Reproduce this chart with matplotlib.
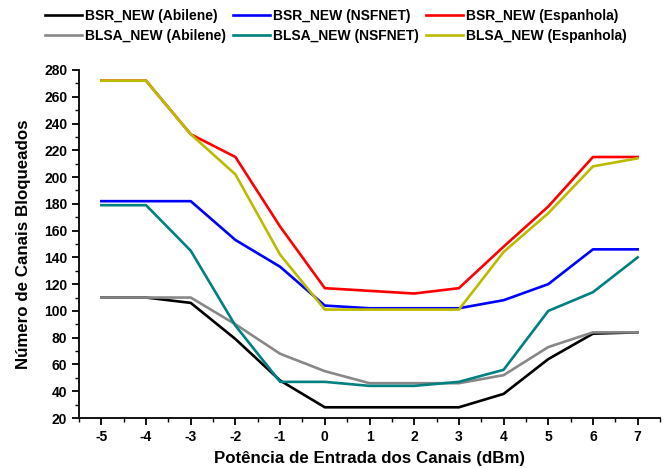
import matplotlib
matplotlib.use("Agg")
import matplotlib.pyplot as plt
from matplotlib.ticker import MultipleLocator

plt.rcParams['font.family'] = ['Liberation Sans', 'DejaVu Sans']
plt.rcParams['font.weight'] = 'bold'
plt.rcParams['axes.unicode_minus'] = False

x = [-5, -4, -3, -2, -1, 0, 1, 2, 3, 4, 5, 6, 7]
bsr_abilene = [110, 110, 106, 79, 48, 28, 28, 28, 28, 38, 64, 83, 84]
bsr_nsfnet = [182, 182, 182, 153, 133, 104, 102, 102, 102, 108, 120, 146, 146]
bsr_espanhola = [272, 272, 232, 215, 163, 117, 115, 113, 117, 148, 178, 215, 215]
blsa_abilene = [110, 110, 110, 90, 68, 55, 46, 46, 46, 52, 73, 84, 84]
blsa_nsfnet = [179, 179, 145, 89, 47, 47, 44, 44, 47, 56, 100, 114, 140]
blsa_espanhola = [272, 272, 232, 202, 142, 101, 101, 101, 101, 144, 173, 208, 214]

series = [
    ("BSR_NEW (Abilene)", bsr_abilene, "#000000"),
    ("BLSA_NEW (Abilene)", blsa_abilene, "#888888"),
    ("BSR_NEW (NSFNET)", bsr_nsfnet, "#0000FF"),
    ("BLSA_NEW (NSFNET)", blsa_nsfnet, "#008080"),
    ("BSR_NEW (Espanhola)", bsr_espanhola, "#FF0000"),
    ("BLSA_NEW (Espanhola)", blsa_espanhola, "#BBBB00"),
]

fig = plt.figure(figsize=(6.69, 4.68), dpi=100)
ax = fig.add_axes([79/669, 50/468, 581/669, 348/468])

for label, ys, c in series:
    ax.plot(x, ys, color=c, lw=1.9, label=label)

ax.set_xlim(-5.5, 7.5)
ax.set_ylim(20, 280)
ax.xaxis.set_major_locator(MultipleLocator(1))
ax.xaxis.set_minor_locator(MultipleLocator(0.5))
ax.yaxis.set_major_locator(MultipleLocator(20))
ax.yaxis.set_minor_locator(MultipleLocator(10))
ax.spines['top'].set_visible(False)
ax.spines['right'].set_visible(False)
for s in ['left', 'bottom']:
    ax.spines[s].set_linewidth(1.3)
ax.tick_params(which='major', direction='out', length=5, width=1.3, labelsize=10)
ax.tick_params(which='minor', direction='out', length=3, width=1.0)
for t in ax.get_xticklabels() + ax.get_yticklabels():
    t.set_fontweight('bold')

ax.set_xlabel("Potência de Entrada dos Canais (dBm)", fontsize=12.2, fontweight='bold', labelpad=5)
ax.set_ylabel("Número de Canais Bloqueados", fontsize=12.2, fontweight='bold', labelpad=9)

leg = fig.legend(loc='upper center', bbox_to_anchor=(0.502, 0.998), ncol=3, frameon=False,
                 prop={'weight': 'bold', 'size': 10}, handlelength=2.7,
                 columnspacing=0.5, handletextpad=0.2, labelspacing=0.4,
                 borderaxespad=0.2)

fig.savefig("out.png", dpi=100)
